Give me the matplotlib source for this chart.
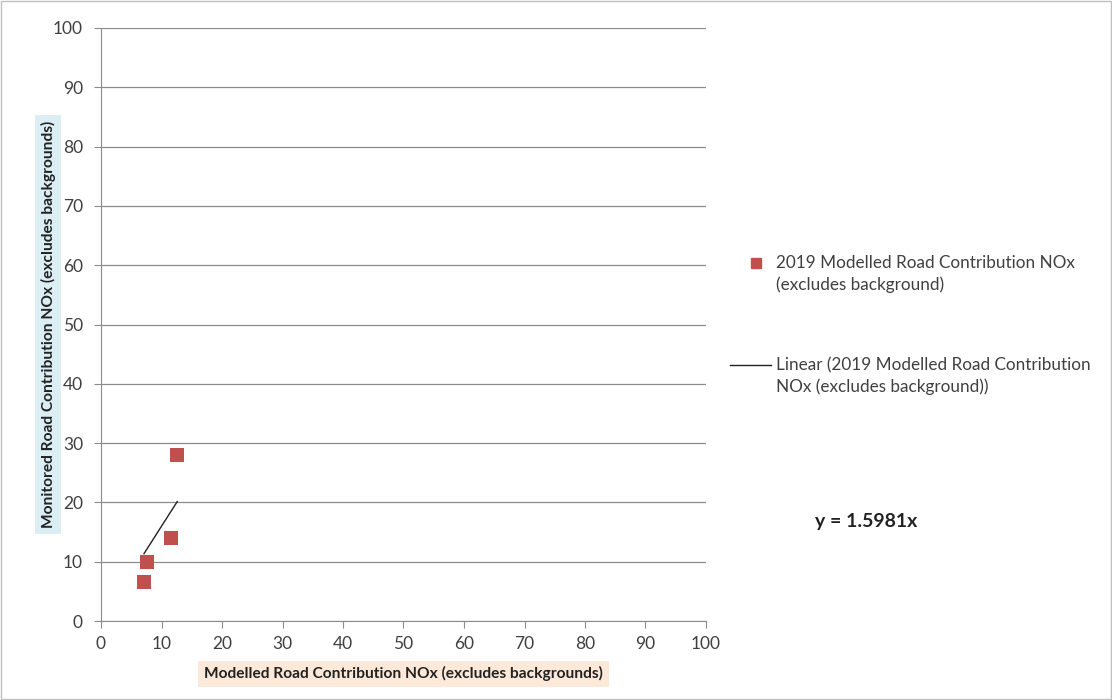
import matplotlib
matplotlib.use("Agg")
import matplotlib.pyplot as plt
from matplotlib.lines import Line2D
from matplotlib.transforms import Affine2D
import numpy as np

plt.rcParams["font.family"] = ["Lato", "DejaVu Sans"]

# Modelled vs monitored road NOx contributions (µg/m3)
modelled = [7.1, 7.6, 11.6, 12.6]
monitored = [6.6, 10.0, 14.0, 28.0]
slope = 1.5981  # linear trend forced through zero

series_label = "2019 Modelled Road Contribution NOx\n(excludes background)"
trend_label = "Linear (2019 Modelled Road Contribution\nNOx (excludes background))"

fig = plt.figure(figsize=(11.12, 7.0), dpi=100)
ax = fig.add_axes([101 / 1112, 79 / 700, 605 / 1112, 593 / 700])

# thin frame around the whole chart area
fig.patches.append(plt.Rectangle((0.001, 0.001), 0.998, 0.997, transform=fig.transFigure,
                                 fill=False, edgecolor="#bfbfbf", lw=1.0))

ax.scatter(modelled, monitored, marker="s", s=100, color="#c0504d", zorder=3, linewidths=0)
xs = np.array([min(modelled), max(modelled)])
ax.plot(xs, slope * xs, color="#222222", lw=1.0, zorder=2)

ax.set_xlim(0, 100)
ax.set_ylim(0, 100)
ax.set_xticks(range(0, 101, 10))
ax.set_yticks(range(0, 101, 10))
ax.yaxis.grid(True, color="#8c8c8c", lw=0.9)
ax.set_axisbelow(True)
for side in ("top", "right"):
    ax.spines[side].set_visible(False)
for side in ("left", "bottom"):
    ax.spines[side].set_color("#8c8c8c")
ax.tick_params(axis="both", colors="#8c8c8c", labelcolor="#404040", labelsize=12.5,
               length=5, direction="out")
ax.tick_params(axis="x", pad=6)
ax.tick_params(axis="y", pad=8)

ax.set_xlabel("Modelled Road Contribution NOx (excludes backgrounds)", fontsize=11.2,
              fontweight="bold", color="#222222", labelpad=10,
              bbox=dict(facecolor="#fde9d9", edgecolor="none", pad=4))
ax.set_ylabel("Monitored Road Contribution NOx (excludes backgrounds)", fontsize=11.2,
              fontweight="bold", color="#222222", labelpad=-2,
              bbox=dict(facecolor="#dbeef4", edgecolor="none", pad=4))

handles = [
    Line2D([], [], marker="s", ls="none", color="#c0504d", markersize=7.5),
    Line2D([], [], color="#222222", lw=1.0),
]
leg = fig.legend(handles, [series_label, trend_label], loc="upper left",
                 bbox_to_anchor=(715 / 1112, 1 - 240 / 700), frameon=False,
                 fontsize=12.3, labelspacing=3.8, handlelength=2.35, handletextpad=0.35,
                 labelcolor="#404040")
for t in leg.get_texts():
    t.set_linespacing(1.35)
# line the legend keys up with the first line of each two-line label
marker_key, line_key = leg.legend_handles
marker_key.set_transform(marker_key.get_transform() + Affine2D().translate(6, 11.5))
line_key.set_transform(line_key.get_transform() + Affine2D().translate(0, 11.5))

fig.text(815 / 1112, 1 - 522 / 700, f"y = {slope:.4f}x", fontsize=14, fontweight="bold",
         color="#222222", va="center")

fig.savefig("out.png", dpi=100)
